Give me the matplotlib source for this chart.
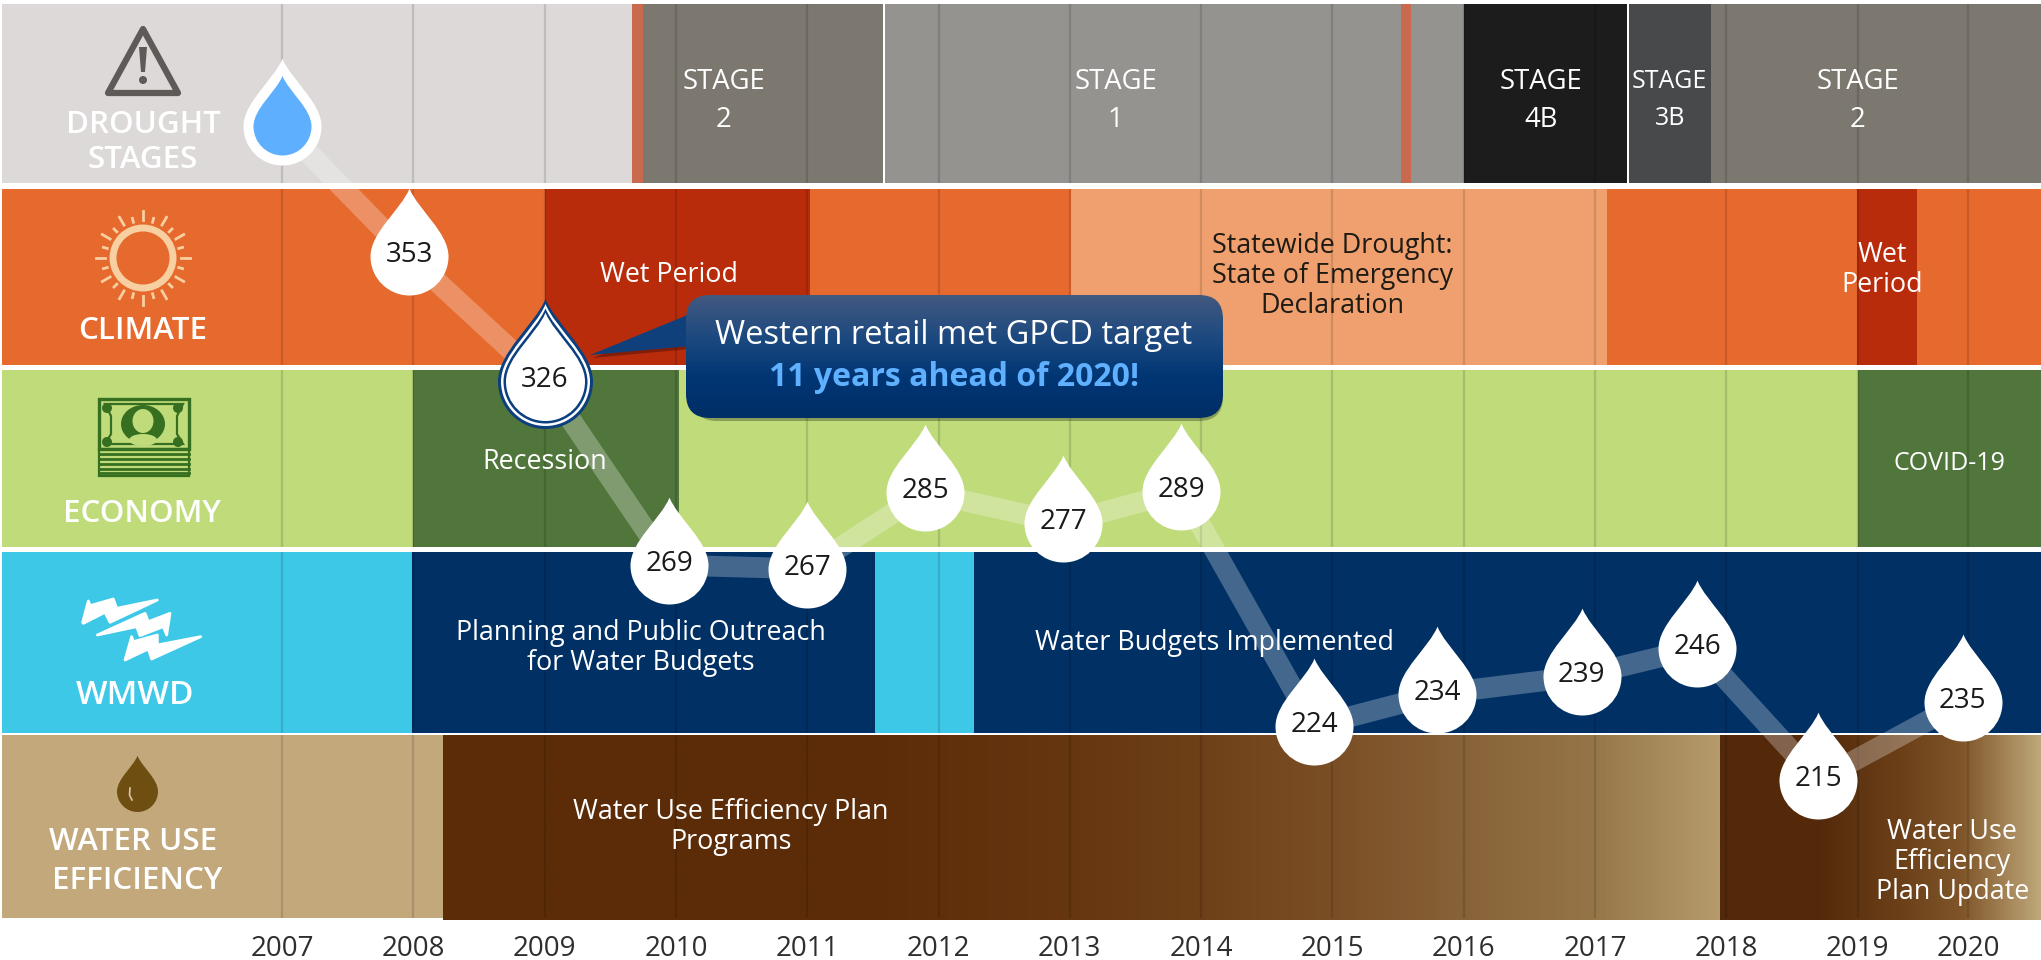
import numpy as np
import matplotlib
matplotlib.use("Agg")
import matplotlib.pyplot as plt
from matplotlib.colors import LinearSegmentedColormap
from matplotlib.patches import Circle, Ellipse, FancyBboxPatch, Polygon, Rectangle
from matplotlib.path import Path

plt.rcParams['font.family'] = ['Open Sans', 'DejaVu Sans']

# Timeline (2020 sits closer to 2019 in the original)
years = ['2007', '2008', '2009', '2010', '2011', '2012', '2013', '2014',
         '2015', '2016', '2017', '2018', '2019', '2020']
year_pos = [2007, 2008, 2009, 2010, 2011, 2012, 2013, 2014,
            2015, 2016, 2017, 2018, 2019, 2019.84]

# GPCD drops: label, where it sits on the timeline, and height
gpcd_labels = [353, 326, 269, 267, 285, 277, 289, 224, 234, 239, 246, 215, 235]
gpcd_pos = [2007.97, 2009.0, 2009.95, 2011.0, 2011.9, 2012.95, 2013.85,
            2014.86, 2015.8, 2016.9, 2017.78, 2018.7, 2019.8]
gpcd_height = [353.0, 320.1, 271.7, 270.7, 290.9, 282.8, 291.2,
               229.3, 237.8, 242.5, 249.9, 215.1, 235.7]
start_pos = 2007.0
start_height = 387.3

# Bands: (start year, end year, colour)
drought_segments = [(2004.87, 2009.666, '#DCD9D8'), (2009.666, 2009.749, '#C96A4E'),
                    (2009.749, 2011.58, '#7C7870'), (2011.595, 2015.522, '#949390'),
                    (2015.522, 2015.598, '#C96A4E'), (2015.598, 2016.002, '#949390'),
                    (2016.002, 2017.245, '#1C1C1C'), (2017.26, 2017.884, '#48494B'),
                    (2017.884, 2020.4, '#7C7870')]
climate_segments = [(2004.87, 2020.4, '#E6692D'), (2009.0, 2011.02, '#B82C0C'),
                    (2013.01, 2017.09, '#EFA06E'), (2018.995, 2019.45, '#B82C0C')]
economy_segments = [(2004.87, 2020.4, '#BFDB7A'), (2008.0, 2010.02, '#50763B'),
                    (2019.0, 2020.4, '#50763B')]
wmwd_segments = [(2004.87, 2020.4, '#3EC8E8'), (2007.99, 2011.52, '#003064'),
                 (2012.27, 2020.4, '#003064')]
wue_segments = [(2004.87, 2020.4, '#C3A87C')]
programs_span = (2008.23, 2017.95)
programs_colors = [(0, '#5C2C08'), (0.33, '#5C2C08'), (0.49, '#653610'), (0.59, '#6E4018'),
                   (0.70, '#7B4F26'), (0.80, '#886238'), (0.90, '#957548'), (0.96, '#A88C5E'),
                   (1, '#B59A6C')]
update_span = (2017.95, 2020.4)
update_colors = [(0, '#54290A'), (0.3, '#54290A'), (0.55, '#6A3F18'), (0.75, '#7F5529'), (1, '#C0A97C')]

# Layout, in pixels from the top of the picture
row_top = [4, 189, 370, 552, 735]
row_bottom = [183, 365, 547, 733, 918]
PX_PER_YEAR = 131.3
X_MIN = 2007 - 282 / PX_PER_YEAR
X_MAX = X_MIN + 2041 / PX_PER_YEAR
GPCD_TOP = 420.4
PX_PER_GPCD = 3.8
AXIS_BOTTOM = 925

fig = plt.figure(figsize=(20.41, 9.6), dpi=100, facecolor='white')
ax = fig.add_axes([0, 1 - AXIS_BOTTOM / 960, 1, AXIS_BOTTOM / 960])


def draw_row(row, segments):
    for start, end, color in segments:
        ax.barh(row_top[row], end - start, left=start, height=row_bottom[row] - row_top[row],
                align='edge', color=color, linewidth=0, zorder=1)


def draw_gradient(span, colors, top, bottom):
    cmap = LinearSegmentedColormap.from_list('band', colors)
    ax.imshow(np.linspace(0, 1, 512).reshape(1, -1), cmap=cmap, aspect='auto',
              extent=(span[0], span[1], bottom, top), zorder=2)


for i, segments in enumerate([drought_segments, climate_segments, economy_segments,
                              wmwd_segments, wue_segments]):
    draw_row(i, segments)
draw_gradient(programs_span, programs_colors, 735, 920)
draw_gradient(update_span, update_colors, 735, 920)

# Year lines in every band
for top, bottom in zip(row_top, row_bottom):
    ax.vlines(year_pos, top, bottom, color='black', alpha=0.13, linewidth=1.6, zorder=3)

ax.set_xlim(X_MIN, X_MAX)
ax.set_ylim(AXIS_BOTTOM, 0)
ax.set_xticks(year_pos, years)
ax.set_yticks([])
ax.tick_params(axis='x', length=0, pad=7, labelsize=20, labelcolor='#2E2E2E')
for spine in ax.spines.values():
    spine.set_visible(False)


def band_text(x, y, text, color='white', size=19.4, spacing=1.1):
    ax.text(x, y, text, color=color, fontsize=size, ha='center', va='center',
            linespacing=spacing, zorder=4)


band_text(2010.366, 101, 'STAGE\n2', size=19.8, spacing=1.5)
band_text(2013.35, 101, 'STAGE\n1', size=19.8, spacing=1.5)
band_text(2016.59, 101, 'STAGE\n4B', size=19.8, spacing=1.5)
band_text(2017.57, 100, 'STAGE\n3B', size=18, spacing=1.65)
band_text(2019.0, 101, 'STAGE\n2', size=19.8, spacing=1.5)
band_text(2009.95, 275, 'Wet Period')
band_text(2015.0, 276, 'Statewide Drought:\nState of Emergency\nDeclaration', color='#1E1A14')
band_text(2019.19, 270, 'Wet\nPeriod')
band_text(2009.0, 462, 'Recession')
band_text(2019.7, 463, 'COVID-19', size=18)
band_text(2009.73, 648, 'Planning and Public Outreach\nfor Water Budgets')
band_text(2014.1, 643, 'Water Budgets Implemented')
band_text(2010.42, 827, 'Water Use Efficiency Plan\nPrograms')
band_text(2019.72, 862, 'Water Use\nEfficiency\nPlan Update')

# GPCD line and drops, on their own scale
ax2 = ax.twinx()
ax2.set_ylim(GPCD_TOP - AXIS_BOTTOM / PX_PER_GPCD, GPCD_TOP)
ax2.set_axis_off()

TIP = 1.74
drop = Path([(0, TIP), (0.22, 1.2), (1, 0.62), (1, 0),
             (1, -0.5523), (0.5523, -1), (0, -1),
             (-0.5523, -1), (-1, -0.5523), (-1, 0),
             (-1, 0.62), (-0.22, 1.2), (0, TIP), (0, TIP)],
            [Path.MOVETO, Path.CURVE4, Path.CURVE4, Path.CURVE4,
             Path.CURVE4, Path.CURVE4, Path.CURVE4,
             Path.CURVE4, Path.CURVE4, Path.CURVE4,
             Path.CURVE4, Path.CURVE4, Path.CURVE4, Path.CLOSEPOLY])


def drop_size(radius_px):
    return 2 * TIP * radius_px * 72 / 100


def draw_drop(axes, x, y, radius_px, color, zorder=6):
    axes.plot([x], [y], marker=drop, markersize=drop_size(radius_px), markerfacecolor=color,
              markeredgewidth=0, linestyle='none', zorder=zorder)


ax2.plot([start_pos] + gpcd_pos, [start_height] + gpcd_height, color='white', alpha=0.27,
         linewidth=15, solid_joinstyle='miter', solid_capstyle='butt', zorder=5)

draw_drop(ax2, start_pos, start_height, 39, 'white')
draw_drop(ax2, start_pos, start_height, 29, '#5FAFFF', zorder=7)

for label, x, y in zip(gpcd_labels, gpcd_pos, gpcd_height):
    if label == 326:
        for radius, color in [(47.5, '#0C3F7E'), (44.5, 'white'), (42, '#0C3F7E'), (39.5, 'white')]:
            draw_drop(ax2, x, y, radius, color)
    else:
        draw_drop(ax2, x, y, 39, 'white')
    ax2.text(x, y + 0.3, str(label), color='#1A1A1A', fontsize=20, ha='center', va='center',
             zorder=8)

# Overlay in picture pixels: row icons, row names, callout
over = fig.add_axes([0, 0, 1, 1], facecolor='none')
over.set_xlim(0, 2041)
over.set_ylim(960, 0)
over.set_axis_off()

for x, y, text, size in [(143, 125, 'DROUGHT', 22.5), (143, 160, 'STAGES', 22.5), (143, 331, 'CLIMATE', 22.5),
                         (142, 514, 'ECONOMY', 22.5), (135, 696, 'WMWD', 24), (133, 842, 'WATER USE', 22.5),
                         (137, 881, 'EFFICIENCY', 22.5)]:
    over.text(x, y, text, color='white', fontsize=size, fontweight='semibold', ha='center',
              va='center')

# warning sign
over.add_patch(Polygon([(143, 29), (178, 93), (108, 93)], closed=True, fill=False,
                       edgecolor='#5E5A58', linewidth=4.5, joinstyle='round'))
over.add_patch(Polygon([(139, 47), (147, 47), (145, 72), (141, 72)], closed=True,
                       facecolor='#5E5A58', linewidth=0))
over.add_patch(Circle((143, 80), 4, facecolor='#5E5A58', linewidth=0))

# sun
over.add_patch(Ellipse((143, 258), 60, 60, fill=False, edgecolor='#F8CFA0', linewidth=5))
for i in range(24):
    angle = np.radians(i * 15)
    inner, outer = (38, 47) if i % 2 == 0 else (37, 41)
    over.plot([143 + inner * np.cos(angle), 143 + outer * np.cos(angle)],
              [258 + inner * np.sin(angle), 258 + outer * np.sin(angle)],
              color='#F8CFA0', linewidth=2)

# bank note
note_green = '#356F1F'
note_light = '#BFDB7A'
over.add_patch(Rectangle((99, 399), 90, 50, fill=False, edgecolor=note_green, linewidth=2.4))
over.add_patch(Polygon([(105, 404), (183, 404), (177, 416), (177, 434), (183, 444), (105, 444),
                        (111, 434), (111, 416)], closed=True, fill=False,
                       edgecolor=note_green, linewidth=1.6))
for cx, cy in [(107, 408), (178, 408), (107, 442), (178, 442)]:
    over.add_patch(Circle((cx, cy), 5, facecolor=note_green, linewidth=0))
over.add_patch(Ellipse((143, 424), 44, 38, facecolor=note_green, linewidth=0))
over.add_patch(Ellipse((143, 421), 21, 24, facecolor=note_light, linewidth=0))
over.add_patch(Ellipse((143, 440), 28, 12, facecolor=note_light, linewidth=0))
over.add_patch(Rectangle((99, 449), 90, 27, fill=False, edgecolor=note_green, linewidth=1.6))
for y in [454, 459, 464, 469, 473]:
    over.plot([99, 189], [y, y], color=note_green, linewidth=2)

bolts = [[(38, 112), (55, 48), (60, 62), (130, 42), (140, 70), (262, 45), (120, 112), (105, 82), (40, 115)],
         [(82, 150), (225, 85), (235, 110), (300, 85), (290, 150), (280, 125), (210, 152), (200, 125)],
         [(165, 225), (185, 155), (190, 170), (262, 150), (262, 180), (392, 155), (245, 222), (235, 192)]]
for bolt in bolts:
    over.add_patch(Polygon([(70 + x / 3, 585 + y / 3) for x, y in bolt], closed=True,
                           facecolor='white', edgecolor='white', linewidth=2, joinstyle='round'))

# small brown drop
draw_drop(over, 137, 791, 20.5, '#6F4E12')
over.plot([130, 129.5, 132], [788, 795, 800], color='#D8C9A8', linewidth=1.2, zorder=7)

# callout with drop shadow and gradient fill
over.add_patch(FancyBboxPatch((693, 305), 530, 116, boxstyle='round,pad=0,rounding_size=24',
                              facecolor='black', alpha=0.28, linewidth=0, zorder=9))
over.add_patch(Polygon([(592, 358), (690, 322), (690, 349)], closed=True, facecolor='black',
                       alpha=0.3, linewidth=0, zorder=9))
over.add_patch(Polygon([(590, 355), (690, 314), (690, 346)], closed=True, facecolor='#10407C',
                       linewidth=0, zorder=10))
box = FancyBboxPatch((686, 295), 537, 123, boxstyle='round,pad=0,rounding_size=24',
                     facecolor='none', linewidth=0, zorder=10)
over.add_patch(box)
box_cmap = LinearSegmentedColormap.from_list('box', ['#43597F', '#1E4A80', '#003674', '#002E66'])
fill = over.imshow(np.linspace(0, 1, 256).reshape(-1, 1), cmap=box_cmap, aspect='auto',
                   extent=(686, 1223, 418, 295), zorder=10)
fill.set_clip_path(box)
over.set_xlim(0, 2041)
over.set_ylim(960, 0)
over.text(954, 336, 'Western retail met GPCD target', color='white', fontsize=23.5, ha='center',
          va='center', zorder=11)
over.text(954, 378, '11 years ahead of 2020!', color='#5FB0FF', fontsize=23, fontweight='bold',
          ha='center', va='center', zorder=11)

fig.savefig('out.png', dpi=100)
